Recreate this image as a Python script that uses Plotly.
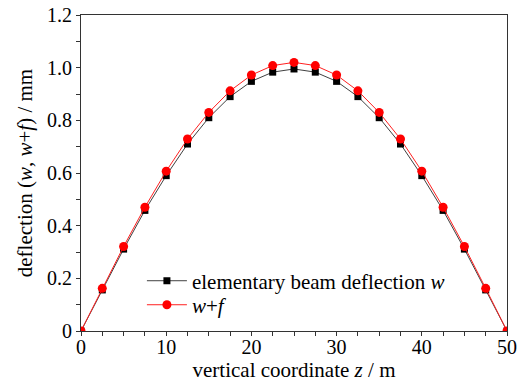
import plotly.graph_objects as go

z = [0, 2.5, 5, 7.5, 10, 12.5, 15, 17.5, 20, 22.5, 25, 27.5, 30, 32.5, 35, 37.5, 40, 42.5, 45, 47.5, 50]
w = [0, 0.156, 0.311, 0.458, 0.59, 0.71, 0.81, 0.89, 0.948, 0.983, 0.995, 0.983, 0.948, 0.89, 0.81, 0.71, 0.59, 0.458, 0.311, 0.156, 0]
wf = [0, 0.162, 0.321, 0.47, 0.607, 0.729, 0.83, 0.912, 0.972, 1.008, 1.02, 1.008, 0.972, 0.912, 0.83, 0.729, 0.607, 0.47, 0.321, 0.162, 0]

y_ticks = [0, 0.2, 0.4, 0.6, 0.8, 1.0, 1.2]
y_labels = ["0", "0.2", "0.4", "0.6", "0.8", "1.0", "1.2"]
x_ticks = [0, 10, 20, 30, 40, 50]
x_labels = ["0", "10", "20", "30", "40", "50"]

font = "Liberation Serif"

fig = go.Figure()
fig.add_trace(go.Scatter(
    x=z, y=w, mode="lines+markers",
    name="elementary beam deflection <i>w</i>",
    line=dict(color="#404040", width=1),
    marker=dict(symbol="square", color="black", size=7),
    legend="legend",
))
fig.add_trace(go.Scatter(
    x=z, y=wf, mode="lines+markers",
    name="<i>w</i>+<i>f</i>",
    line=dict(color="#ff2020", width=1),
    marker=dict(symbol="circle", color="#ff0000", size=9),
    legend="legend2",
))

axis_common = dict(
    showgrid=False, zeroline=False, showline=True, linecolor="#333333", linewidth=1.2,
    mirror=True, ticks="outside", ticklen=4, tickwidth=1, tickcolor="#333333",
    tickfont=dict(family=font, size=20, color="black"), automargin=False,
)

fig.update_xaxes(
    range=[0, 50], tickvals=x_ticks, ticktext=x_labels,
    minor=dict(ticks="outside", ticklen=4, dtick=2.5, tickcolor="#333333"),
    ticklabelstandoff=-6,
    title=dict(text="vertical coordinate <i>z</i> / m", font=dict(family=font, size=21, color="black"), standoff=0),
    **axis_common,
)
fig.update_yaxes(
    range=[0, 1.2], tickvals=y_ticks, ticktext=y_labels,
    minor=dict(ticks="outside", ticklen=4, dtick=0.1, tickcolor="#333333"),
    title=dict(text="deflection (<i>w</i>, <i>w</i>+<i>f</i>) / mm", font=dict(family=font, size=21, color="black"), standoff=8),
    **axis_common,
)

leg_common = dict(
    xanchor="left", yanchor="middle", bgcolor="rgba(0,0,0,0)",
    font=dict(family=font, size=21, color="black"), itemwidth=40,
)
fig.update_layout(
    width=526, height=384,
    margin=dict(l=81, r=19, t=15, b=53),
    plot_bgcolor="white", paper_bgcolor="white",
    font=dict(family=font),
    showlegend=True,
    legend=dict(x=0.143, y=0.158, **leg_common),
    legend2=dict(x=0.143, y=0.082, **leg_common),
)

fig.write_html("out.html", config={"displayModeBar": False},
               post_script="document.body.style.margin='0px';")
